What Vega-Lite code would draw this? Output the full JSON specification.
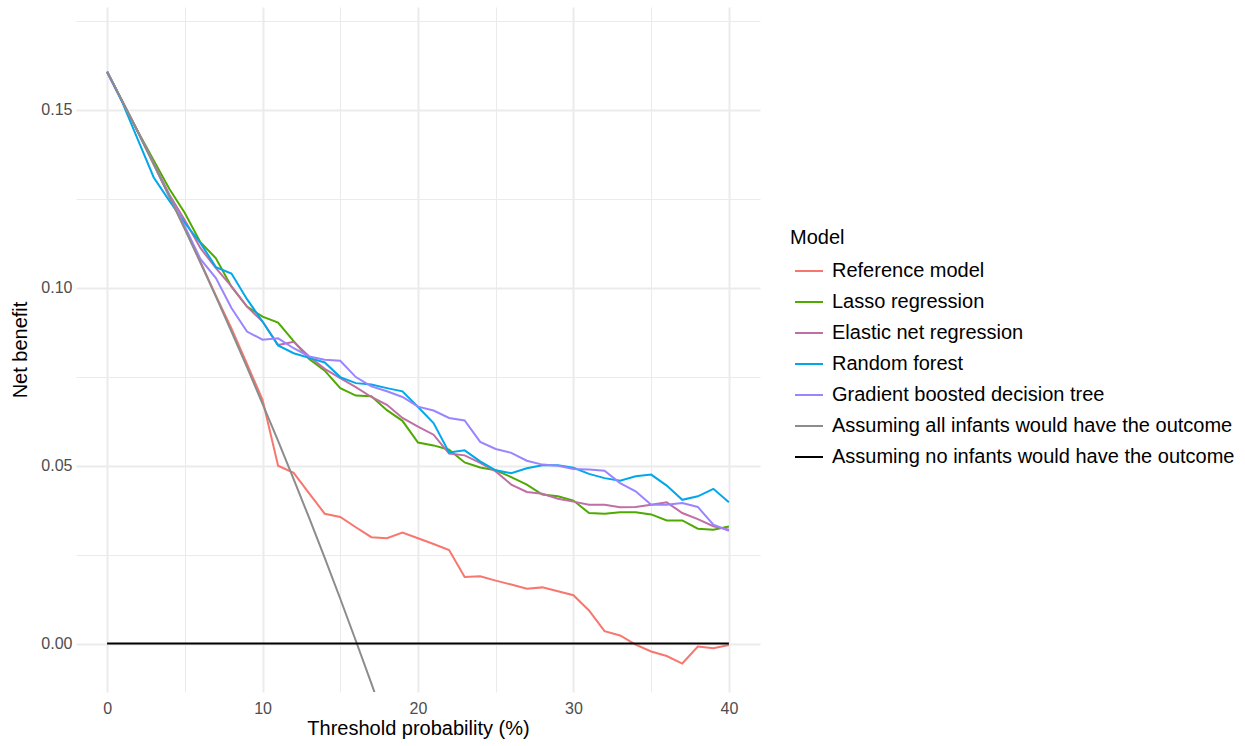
{
  "$schema": "https://vega.github.io/schema/vega-lite/v6.json",
  "width": 684,
  "height": 685,
  "autosize": {"type": "none"},
  "padding": {"left": 76, "top": 7, "right": 485, "bottom": 54},
  "background": "white",
  "config": {
    "view": {"stroke": null},
    "font": "Liberation Sans",
    "axis": {
      "domain": false,
      "ticks": false,
      "gridColor": "#EBEBEB",
      "labelColor": "#4D4D4D",
      "labelFontSize": 16,
      "titleFontSize": 20,
      "titleFontWeight": "normal",
      "titleColor": "#000000"
    }
  },
  "data": {
    "values": [
      {"model": "Reference model", "threshold": 0, "net_benefit": 0.1607},
      {"model": "Reference model", "threshold": 1, "net_benefit": 0.1522},
      {"model": "Reference model", "threshold": 2, "net_benefit": 0.1436},
      {"model": "Reference model", "threshold": 3, "net_benefit": 0.1347},
      {"model": "Reference model", "threshold": 4, "net_benefit": 0.1257},
      {"model": "Reference model", "threshold": 5, "net_benefit": 0.1166},
      {"model": "Reference model", "threshold": 6, "net_benefit": 0.1073},
      {"model": "Reference model", "threshold": 7, "net_benefit": 0.0978},
      {"model": "Reference model", "threshold": 8, "net_benefit": 0.0886},
      {"model": "Reference model", "threshold": 9, "net_benefit": 0.0786},
      {"model": "Reference model", "threshold": 10, "net_benefit": 0.0685},
      {"model": "Reference model", "threshold": 11, "net_benefit": 0.0500},
      {"model": "Reference model", "threshold": 12, "net_benefit": 0.0480},
      {"model": "Reference model", "threshold": 13, "net_benefit": 0.0422},
      {"model": "Reference model", "threshold": 14, "net_benefit": 0.0365},
      {"model": "Reference model", "threshold": 15, "net_benefit": 0.0356},
      {"model": "Reference model", "threshold": 16, "net_benefit": 0.0327},
      {"model": "Reference model", "threshold": 17, "net_benefit": 0.0299},
      {"model": "Reference model", "threshold": 18, "net_benefit": 0.0296},
      {"model": "Reference model", "threshold": 19, "net_benefit": 0.0312},
      {"model": "Reference model", "threshold": 20, "net_benefit": 0.0296},
      {"model": "Reference model", "threshold": 21, "net_benefit": 0.0280},
      {"model": "Reference model", "threshold": 22, "net_benefit": 0.0263},
      {"model": "Reference model", "threshold": 23, "net_benefit": 0.0187},
      {"model": "Reference model", "threshold": 24, "net_benefit": 0.0189},
      {"model": "Reference model", "threshold": 25, "net_benefit": 0.0177},
      {"model": "Reference model", "threshold": 26, "net_benefit": 0.0166},
      {"model": "Reference model", "threshold": 27, "net_benefit": 0.0154},
      {"model": "Reference model", "threshold": 28, "net_benefit": 0.0158},
      {"model": "Reference model", "threshold": 29, "net_benefit": 0.0147},
      {"model": "Reference model", "threshold": 30, "net_benefit": 0.0136},
      {"model": "Reference model", "threshold": 31, "net_benefit": 0.0093},
      {"model": "Reference model", "threshold": 32, "net_benefit": 0.0035},
      {"model": "Reference model", "threshold": 33, "net_benefit": 0.0023},
      {"model": "Reference model", "threshold": 34, "net_benefit": -0.0003},
      {"model": "Reference model", "threshold": 35, "net_benefit": -0.0022},
      {"model": "Reference model", "threshold": 36, "net_benefit": -0.0035},
      {"model": "Reference model", "threshold": 37, "net_benefit": -0.0056},
      {"model": "Reference model", "threshold": 38, "net_benefit": -0.0008},
      {"model": "Reference model", "threshold": 39, "net_benefit": -0.0013},
      {"model": "Reference model", "threshold": 40, "net_benefit": -0.0004},

      {"model": "Lasso regression", "threshold": 0, "net_benefit": 0.1607},
      {"model": "Lasso regression", "threshold": 1, "net_benefit": 0.1522},
      {"model": "Lasso regression", "threshold": 2, "net_benefit": 0.1438},
      {"model": "Lasso regression", "threshold": 3, "net_benefit": 0.1358},
      {"model": "Lasso regression", "threshold": 4, "net_benefit": 0.1278},
      {"model": "Lasso regression", "threshold": 5, "net_benefit": 0.1210},
      {"model": "Lasso regression", "threshold": 6, "net_benefit": 0.1128},
      {"model": "Lasso regression", "threshold": 7, "net_benefit": 0.1083},
      {"model": "Lasso regression", "threshold": 8, "net_benefit": 0.1003},
      {"model": "Lasso regression", "threshold": 9, "net_benefit": 0.0947},
      {"model": "Lasso regression", "threshold": 10, "net_benefit": 0.0919},
      {"model": "Lasso regression", "threshold": 11, "net_benefit": 0.0902},
      {"model": "Lasso regression", "threshold": 12, "net_benefit": 0.0850},
      {"model": "Lasso regression", "threshold": 13, "net_benefit": 0.0800},
      {"model": "Lasso regression", "threshold": 14, "net_benefit": 0.0767},
      {"model": "Lasso regression", "threshold": 15, "net_benefit": 0.0718},
      {"model": "Lasso regression", "threshold": 16, "net_benefit": 0.0697},
      {"model": "Lasso regression", "threshold": 17, "net_benefit": 0.0695},
      {"model": "Lasso regression", "threshold": 18, "net_benefit": 0.0656},
      {"model": "Lasso regression", "threshold": 19, "net_benefit": 0.0626},
      {"model": "Lasso regression", "threshold": 20, "net_benefit": 0.0565},
      {"model": "Lasso regression", "threshold": 21, "net_benefit": 0.0557},
      {"model": "Lasso regression", "threshold": 22, "net_benefit": 0.0545},
      {"model": "Lasso regression", "threshold": 23, "net_benefit": 0.0509},
      {"model": "Lasso regression", "threshold": 24, "net_benefit": 0.0495},
      {"model": "Lasso regression", "threshold": 25, "net_benefit": 0.0487},
      {"model": "Lasso regression", "threshold": 26, "net_benefit": 0.0468},
      {"model": "Lasso regression", "threshold": 27, "net_benefit": 0.0447},
      {"model": "Lasso regression", "threshold": 28, "net_benefit": 0.0419},
      {"model": "Lasso regression", "threshold": 29, "net_benefit": 0.0414},
      {"model": "Lasso regression", "threshold": 30, "net_benefit": 0.0402},
      {"model": "Lasso regression", "threshold": 31, "net_benefit": 0.0367},
      {"model": "Lasso regression", "threshold": 32, "net_benefit": 0.0365},
      {"model": "Lasso regression", "threshold": 33, "net_benefit": 0.0369},
      {"model": "Lasso regression", "threshold": 34, "net_benefit": 0.0369},
      {"model": "Lasso regression", "threshold": 35, "net_benefit": 0.0363},
      {"model": "Lasso regression", "threshold": 36, "net_benefit": 0.0346},
      {"model": "Lasso regression", "threshold": 37, "net_benefit": 0.0346},
      {"model": "Lasso regression", "threshold": 38, "net_benefit": 0.0323},
      {"model": "Lasso regression", "threshold": 39, "net_benefit": 0.0320},
      {"model": "Lasso regression", "threshold": 40, "net_benefit": 0.0329},

      {"model": "Elastic net regression", "threshold": 0, "net_benefit": 0.1607},
      {"model": "Elastic net regression", "threshold": 1, "net_benefit": 0.1522},
      {"model": "Elastic net regression", "threshold": 2, "net_benefit": 0.1437},
      {"model": "Elastic net regression", "threshold": 3, "net_benefit": 0.1350},
      {"model": "Elastic net regression", "threshold": 4, "net_benefit": 0.1262},
      {"model": "Elastic net regression", "threshold": 5, "net_benefit": 0.1190},
      {"model": "Elastic net regression", "threshold": 6, "net_benefit": 0.1112},
      {"model": "Elastic net regression", "threshold": 7, "net_benefit": 0.1055},
      {"model": "Elastic net regression", "threshold": 8, "net_benefit": 0.1004},
      {"model": "Elastic net regression", "threshold": 9, "net_benefit": 0.0947},
      {"model": "Elastic net regression", "threshold": 10, "net_benefit": 0.0905},
      {"model": "Elastic net regression", "threshold": 11, "net_benefit": 0.0839},
      {"model": "Elastic net regression", "threshold": 12, "net_benefit": 0.0848},
      {"model": "Elastic net regression", "threshold": 13, "net_benefit": 0.0807},
      {"model": "Elastic net regression", "threshold": 14, "net_benefit": 0.0772},
      {"model": "Elastic net regression", "threshold": 15, "net_benefit": 0.0746},
      {"model": "Elastic net regression", "threshold": 16, "net_benefit": 0.0721},
      {"model": "Elastic net regression", "threshold": 17, "net_benefit": 0.0693},
      {"model": "Elastic net regression", "threshold": 18, "net_benefit": 0.0671},
      {"model": "Elastic net regression", "threshold": 19, "net_benefit": 0.0634},
      {"model": "Elastic net regression", "threshold": 20, "net_benefit": 0.0610},
      {"model": "Elastic net regression", "threshold": 21, "net_benefit": 0.0587},
      {"model": "Elastic net regression", "threshold": 22, "net_benefit": 0.0534},
      {"model": "Elastic net regression", "threshold": 23, "net_benefit": 0.0529},
      {"model": "Elastic net regression", "threshold": 24, "net_benefit": 0.0508},
      {"model": "Elastic net regression", "threshold": 25, "net_benefit": 0.0484},
      {"model": "Elastic net regression", "threshold": 26, "net_benefit": 0.0447},
      {"model": "Elastic net regression", "threshold": 27, "net_benefit": 0.0426},
      {"model": "Elastic net regression", "threshold": 28, "net_benefit": 0.0421},
      {"model": "Elastic net regression", "threshold": 29, "net_benefit": 0.0407},
      {"model": "Elastic net regression", "threshold": 30, "net_benefit": 0.0399},
      {"model": "Elastic net regression", "threshold": 31, "net_benefit": 0.0390},
      {"model": "Elastic net regression", "threshold": 32, "net_benefit": 0.0390},
      {"model": "Elastic net regression", "threshold": 33, "net_benefit": 0.0383},
      {"model": "Elastic net regression", "threshold": 34, "net_benefit": 0.0384},
      {"model": "Elastic net regression", "threshold": 35, "net_benefit": 0.0390},
      {"model": "Elastic net regression", "threshold": 36, "net_benefit": 0.0397},
      {"model": "Elastic net regression", "threshold": 37, "net_benefit": 0.0367},
      {"model": "Elastic net regression", "threshold": 38, "net_benefit": 0.0350},
      {"model": "Elastic net regression", "threshold": 39, "net_benefit": 0.0330},
      {"model": "Elastic net regression", "threshold": 40, "net_benefit": 0.0320},

      {"model": "Random forest", "threshold": 0, "net_benefit": 0.1607},
      {"model": "Random forest", "threshold": 1, "net_benefit": 0.1519},
      {"model": "Random forest", "threshold": 2, "net_benefit": 0.1414},
      {"model": "Random forest", "threshold": 3, "net_benefit": 0.1310},
      {"model": "Random forest", "threshold": 4, "net_benefit": 0.1245},
      {"model": "Random forest", "threshold": 5, "net_benefit": 0.1182},
      {"model": "Random forest", "threshold": 6, "net_benefit": 0.1126},
      {"model": "Random forest", "threshold": 7, "net_benefit": 0.1058},
      {"model": "Random forest", "threshold": 8, "net_benefit": 0.1040},
      {"model": "Random forest", "threshold": 9, "net_benefit": 0.0968},
      {"model": "Random forest", "threshold": 10, "net_benefit": 0.0905},
      {"model": "Random forest", "threshold": 11, "net_benefit": 0.0838},
      {"model": "Random forest", "threshold": 12, "net_benefit": 0.0816},
      {"model": "Random forest", "threshold": 13, "net_benefit": 0.0803},
      {"model": "Random forest", "threshold": 14, "net_benefit": 0.0790},
      {"model": "Random forest", "threshold": 15, "net_benefit": 0.0749},
      {"model": "Random forest", "threshold": 16, "net_benefit": 0.0732},
      {"model": "Random forest", "threshold": 17, "net_benefit": 0.0728},
      {"model": "Random forest", "threshold": 18, "net_benefit": 0.0718},
      {"model": "Random forest", "threshold": 19, "net_benefit": 0.0709},
      {"model": "Random forest", "threshold": 20, "net_benefit": 0.0665},
      {"model": "Random forest", "threshold": 21, "net_benefit": 0.0620},
      {"model": "Random forest", "threshold": 22, "net_benefit": 0.0537},
      {"model": "Random forest", "threshold": 23, "net_benefit": 0.0543},
      {"model": "Random forest", "threshold": 24, "net_benefit": 0.0512},
      {"model": "Random forest", "threshold": 25, "net_benefit": 0.0487},
      {"model": "Random forest", "threshold": 26, "net_benefit": 0.0479},
      {"model": "Random forest", "threshold": 27, "net_benefit": 0.0493},
      {"model": "Random forest", "threshold": 28, "net_benefit": 0.0501},
      {"model": "Random forest", "threshold": 29, "net_benefit": 0.0501},
      {"model": "Random forest", "threshold": 30, "net_benefit": 0.0494},
      {"model": "Random forest", "threshold": 31, "net_benefit": 0.0477},
      {"model": "Random forest", "threshold": 32, "net_benefit": 0.0465},
      {"model": "Random forest", "threshold": 33, "net_benefit": 0.0458},
      {"model": "Random forest", "threshold": 34, "net_benefit": 0.0470},
      {"model": "Random forest", "threshold": 35, "net_benefit": 0.0475},
      {"model": "Random forest", "threshold": 36, "net_benefit": 0.0444},
      {"model": "Random forest", "threshold": 37, "net_benefit": 0.0404},
      {"model": "Random forest", "threshold": 38, "net_benefit": 0.0414},
      {"model": "Random forest", "threshold": 39, "net_benefit": 0.0435},
      {"model": "Random forest", "threshold": 40, "net_benefit": 0.0397},

      {"model": "Gradient boosted decision tree", "threshold": 0, "net_benefit": 0.1607},
      {"model": "Gradient boosted decision tree", "threshold": 1, "net_benefit": 0.1522},
      {"model": "Gradient boosted decision tree", "threshold": 2, "net_benefit": 0.1436},
      {"model": "Gradient boosted decision tree", "threshold": 3, "net_benefit": 0.1348},
      {"model": "Gradient boosted decision tree", "threshold": 4, "net_benefit": 0.1258},
      {"model": "Gradient boosted decision tree", "threshold": 5, "net_benefit": 0.1172},
      {"model": "Gradient boosted decision tree", "threshold": 6, "net_benefit": 0.1081},
      {"model": "Gradient boosted decision tree", "threshold": 7, "net_benefit": 0.1027},
      {"model": "Gradient boosted decision tree", "threshold": 8, "net_benefit": 0.0943},
      {"model": "Gradient boosted decision tree", "threshold": 9, "net_benefit": 0.0877},
      {"model": "Gradient boosted decision tree", "threshold": 10, "net_benefit": 0.0854},
      {"model": "Gradient boosted decision tree", "threshold": 11, "net_benefit": 0.0858},
      {"model": "Gradient boosted decision tree", "threshold": 12, "net_benefit": 0.0830},
      {"model": "Gradient boosted decision tree", "threshold": 13, "net_benefit": 0.0807},
      {"model": "Gradient boosted decision tree", "threshold": 14, "net_benefit": 0.0798},
      {"model": "Gradient boosted decision tree", "threshold": 15, "net_benefit": 0.0795},
      {"model": "Gradient boosted decision tree", "threshold": 16, "net_benefit": 0.0749},
      {"model": "Gradient boosted decision tree", "threshold": 17, "net_benefit": 0.0723},
      {"model": "Gradient boosted decision tree", "threshold": 18, "net_benefit": 0.0709},
      {"model": "Gradient boosted decision tree", "threshold": 19, "net_benefit": 0.0693},
      {"model": "Gradient boosted decision tree", "threshold": 20, "net_benefit": 0.0666},
      {"model": "Gradient boosted decision tree", "threshold": 21, "net_benefit": 0.0655},
      {"model": "Gradient boosted decision tree", "threshold": 22, "net_benefit": 0.0634},
      {"model": "Gradient boosted decision tree", "threshold": 23, "net_benefit": 0.0627},
      {"model": "Gradient boosted decision tree", "threshold": 24, "net_benefit": 0.0567},
      {"model": "Gradient boosted decision tree", "threshold": 25, "net_benefit": 0.0547},
      {"model": "Gradient boosted decision tree", "threshold": 26, "net_benefit": 0.0536},
      {"model": "Gradient boosted decision tree", "threshold": 27, "net_benefit": 0.0514},
      {"model": "Gradient boosted decision tree", "threshold": 28, "net_benefit": 0.0503},
      {"model": "Gradient boosted decision tree", "threshold": 29, "net_benefit": 0.0500},
      {"model": "Gradient boosted decision tree", "threshold": 30, "net_benefit": 0.0491},
      {"model": "Gradient boosted decision tree", "threshold": 31, "net_benefit": 0.0489},
      {"model": "Gradient boosted decision tree", "threshold": 32, "net_benefit": 0.0486},
      {"model": "Gradient boosted decision tree", "threshold": 33, "net_benefit": 0.0451},
      {"model": "Gradient boosted decision tree", "threshold": 34, "net_benefit": 0.0428},
      {"model": "Gradient boosted decision tree", "threshold": 35, "net_benefit": 0.0390},
      {"model": "Gradient boosted decision tree", "threshold": 36, "net_benefit": 0.0390},
      {"model": "Gradient boosted decision tree", "threshold": 37, "net_benefit": 0.0395},
      {"model": "Gradient boosted decision tree", "threshold": 38, "net_benefit": 0.0384},
      {"model": "Gradient boosted decision tree", "threshold": 39, "net_benefit": 0.0334},
      {"model": "Gradient boosted decision tree", "threshold": 40, "net_benefit": 0.0317},

      {"model": "Assuming all infants would have the outcome", "threshold": 0, "net_benefit": 0.1607},
      {"model": "Assuming all infants would have the outcome", "threshold": 1, "net_benefit": 0.1522},
      {"model": "Assuming all infants would have the outcome", "threshold": 2, "net_benefit": 0.1436},
      {"model": "Assuming all infants would have the outcome", "threshold": 3, "net_benefit": 0.1347},
      {"model": "Assuming all infants would have the outcome", "threshold": 4, "net_benefit": 0.1257},
      {"model": "Assuming all infants would have the outcome", "threshold": 5, "net_benefit": 0.1165},
      {"model": "Assuming all infants would have the outcome", "threshold": 6, "net_benefit": 0.1071},
      {"model": "Assuming all infants would have the outcome", "threshold": 7, "net_benefit": 0.0975},
      {"model": "Assuming all infants would have the outcome", "threshold": 8, "net_benefit": 0.0877},
      {"model": "Assuming all infants would have the outcome", "threshold": 9, "net_benefit": 0.0777},
      {"model": "Assuming all infants would have the outcome", "threshold": 10, "net_benefit": 0.0674},
      {"model": "Assuming all infants would have the outcome", "threshold": 11, "net_benefit": 0.0570},
      {"model": "Assuming all infants would have the outcome", "threshold": 12, "net_benefit": 0.0462},
      {"model": "Assuming all infants would have the outcome", "threshold": 13, "net_benefit": 0.0353},
      {"model": "Assuming all infants would have the outcome", "threshold": 14, "net_benefit": 0.0241},
      {"model": "Assuming all infants would have the outcome", "threshold": 15, "net_benefit": 0.0126},
      {"model": "Assuming all infants would have the outcome", "threshold": 16, "net_benefit": 0.0008},
      {"model": "Assuming all infants would have the outcome", "threshold": 17, "net_benefit": -0.0112},
      {"model": "Assuming all infants would have the outcome", "threshold": 18, "net_benefit": -0.0235},

      {"model": "Assuming no infants would have the outcome", "threshold": 0, "net_benefit": 0},
      {"model": "Assuming no infants would have the outcome", "threshold": 40, "net_benefit": 0}
    ]
  },
  "mark": {"type": "line", "strokeWidth": 2, "clip": true},
  "encoding": {
    "x": {
      "field": "threshold",
      "type": "quantitative",
      "title": "Threshold probability (%)",
      "scale": {"domain": [-2, 42], "nice": false, "zero": false},
      "axis": {
        "values": [0, 5, 10, 15, 20, 25, 30, 35, 40],
        "labelExpr": "datum.value % 10 === 0 ? datum.label : ''",
        "gridWidth": {"condition": {"test": "datum.value % 10 === 0", "value": 2}, "value": 1},
        "labelPadding": 8,
        "titlePadding": 2
      }
    },
    "y": {
      "field": "net_benefit",
      "type": "quantitative",
      "title": "Net benefit",
      "scale": {"domain": [-0.0136, 0.1789], "nice": false, "zero": false},
      "axis": {
        "values": [0, 0.025, 0.05, 0.075, 0.1, 0.125, 0.15, 0.175],
        "labelExpr": "round(datum.value * 1000) % 50 === 0 ? format(datum.value, '.2f') : ''",
        "gridWidth": {"condition": {"test": "round(datum.value * 1000) % 50 === 0", "value": 2}, "value": 1},
        "labelPadding": 4,
        "titlePadding": 10
      }
    },
    "color": {
      "field": "model",
      "type": "nominal",
      "scale": {
        "domain": [
          "Reference model",
          "Lasso regression",
          "Elastic net regression",
          "Random forest",
          "Gradient boosted decision tree",
          "Assuming all infants would have the outcome",
          "Assuming no infants would have the outcome"
        ],
        "range": ["#F8766D", "#4FAA00", "#C06EA6", "#00A8EA", "#9B84FF", "#8C8C8C", "#000000"]
      },
      "legend": {
        "title": "Model",
        "orient": "none",
        "legendX": 714,
        "legendY": 221,
        "symbolType": "stroke",
        "symbolSize": 784,
        "symbolStrokeWidth": 2,
        "symbolOffset": 4,
        "labelFontSize": 20,
        "labelColor": "#000000",
        "labelLimit": 600,
        "labelOffset": 8,
        "titleFontSize": 20,
        "titleFontWeight": "normal",
        "titleColor": "#000000",
        "titlePadding": 8,
        "rowPadding": 6
      }
    }
  }
}
